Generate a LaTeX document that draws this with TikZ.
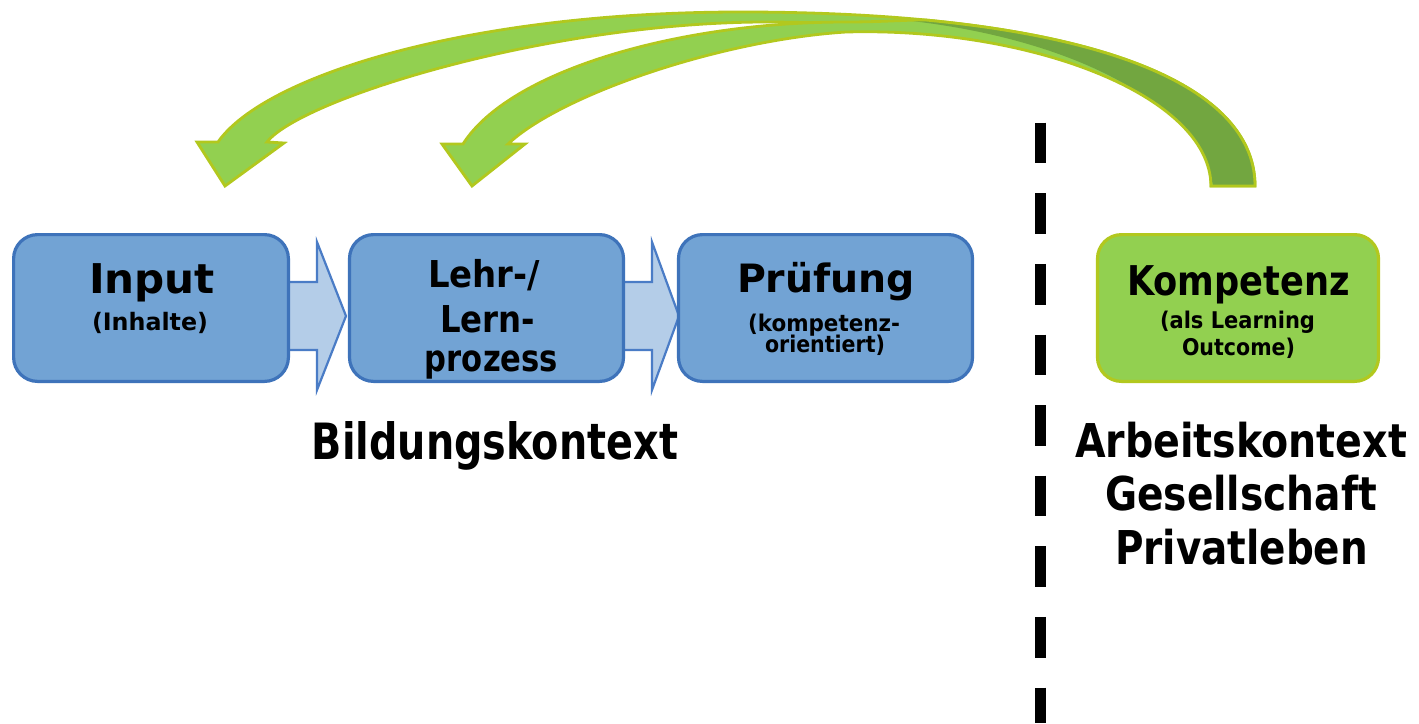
\documentclass[tikz,border=0pt]{standalone}
\usepackage{fontspec}
\setmainfont{DejaVu Sans}
\usepackage{graphicx}
\definecolor{boxfill}{HTML}{72A3D4}
\definecolor{boxline}{HTML}{3E73BA}
\definecolor{arrfill}{HTML}{B4CDE8}
\definecolor{arrline}{HTML}{4A7CC6}
\definecolor{gfill}{HTML}{92D050}
\definecolor{gline}{HTML}{B2C81E}
\definecolor{gdark}{HTML}{72A640}
\newcommand\fw[3]{{\fontsize{#1pt}{#1pt}\selectfont\bfseries\resizebox{#2pt}{\height}{#3}}}
\newcommand\ArrowTwo[1]{\path[#1] (463,144) .. controls (510,70) and (680,22) .. (846,22) .. controls (880,22) and (905,20) .. (924.6,19.9) .. controls (1143,40.7) and (1255,101.2) .. (1255,186) -- (1211,186) .. controls (1210,95) and (1030,27) .. (846,32) .. controls (720,40) and (560,95) .. (508,144) -- (525,144) -- (472,186) -- (442,144) -- cycle;}
\begin{document}
\begin{tikzpicture}[x=0.5pt,y=-0.5pt,
  bluebox/.style={draw=boxline, fill=boxfill, line width=1.6pt, rounded corners=12pt, minimum height=73.4pt, inner sep=0pt},
  greenbox/.style={draw=gline, fill=gfill, line width=1.6pt, rounded corners=12pt, minimum height=73.4pt, inner sep=0pt},
  blockarrow/.style={draw=arrline, fill=arrfill, line width=1.1pt},
  garrow/.style={fill=gfill, draw=gline, line width=1.4pt},
  gstroke/.style={draw=gline, line width=1.4pt},
  lbl/.style={inner sep=0pt, anchor=base},
  dashline/.style={line width=5.5pt, dash pattern=on 20.3pt off 15pt}]
\useasboundingbox[fill=white] (0,0) rectangle (1419,723);

% dashed separator
\coordinate (d1) at (1040.5,122.7);
\coordinate (d2) at (1040.5,723);
\draw[dashline] (d1) -- (d2);

% curved arrow 1 (to Input)
\path[garrow] (218,142) .. controls (265,75) and (470,12) .. (741,12) .. controls (1080,12) and (1255,80) .. (1255,186) -- (1211,186) .. controls (1212,90) and (1060,22) .. (760,22) .. controls (540,24) and (300,100) .. (267,142) -- (284,143) -- (225,186) -- (197,142) -- cycle;

% curved arrow 2 (to Lehr-/Lernprozess)
\ArrowTwo{fill=gfill}
\begin{scope}
\ArrowTwo{clip}
\fill[gdark] (880,0) .. controls (1100,0) and (1300,80) .. (1300,200) -- (1214,200) -- (1214,190) .. controls (1195,90) and (1040,30) .. (880,18) -- cycle;
\end{scope}
\ArrowTwo{gstroke}

% block arrows
\path[blockarrow] (270,282) -- (317,282) -- (317,242) -- (346,316) -- (317,390) -- (317,350) -- (270,350) -- cycle;
\path[blockarrow] (600,282) -- (652,282) -- (652,242) -- (679,316) -- (652,390) -- (652,350) -- (600,350) -- cycle;

% boxes
\node[bluebox, minimum width=137.4pt] (in) at (151,308) {};
\node[bluebox, minimum width=137pt] (lp) at (486.5,308) {};
\node[bluebox, minimum width=147pt] (pr) at (825.5,308) {};
\node[greenbox, minimum width=140.5pt] (ko) at (1238,308) {};

% texts
\node[lbl] (t1) at (152,293) {\fw{20.5}{63}{Input}};
\node[lbl] (t2) at (150,330) {\fw{12}{58}{(Inhalte)}};
\node[lbl] (t3) at (484,287) {\fw{18.5}{56}{Lehr-/}};
\node[lbl] (t4) at (487.5,332) {\fw{18.5}{47.5}{Lern-}};
\node[lbl] (t5) at (491.5,371) {\fw{18.5}{66.5}{prozess}};
\node[lbl] (t6) at (826,292) {\fw{19.5}{89}{Prüfung}};
\node[lbl] (t7) at (824,331) {\fw{11.5}{76}{(kompetenz-}};
\node[lbl] (t8) at (825,352) {\fw{11.5}{60}{orientiert)}};
\node[lbl] (t9) at (1238.5,295) {\fw{20.5}{111.5}{Kompetenz}};
\node[lbl] (t10) at (1237.5,328) {\fw{11.5}{77.5}{(als Learning}};
\node[lbl] (t11) at (1238.5,355) {\fw{11.5}{56.5}{Outcome)}};
\node[lbl] (t12) at (495,459) {\fw{25}{183}{Bildungskontext}};
\node[lbl] (t13) at (1241,457) {\fw{23.3}{166}{Arbeitskontext}};
\node[lbl] (t14) at (1241,510) {\fw{23.3}{136}{Gesellschaft}};
\node[lbl] (t15) at (1241.5,564) {\fw{23.3}{126.5}{Privatleben}};
\end{tikzpicture}
\end{document}
